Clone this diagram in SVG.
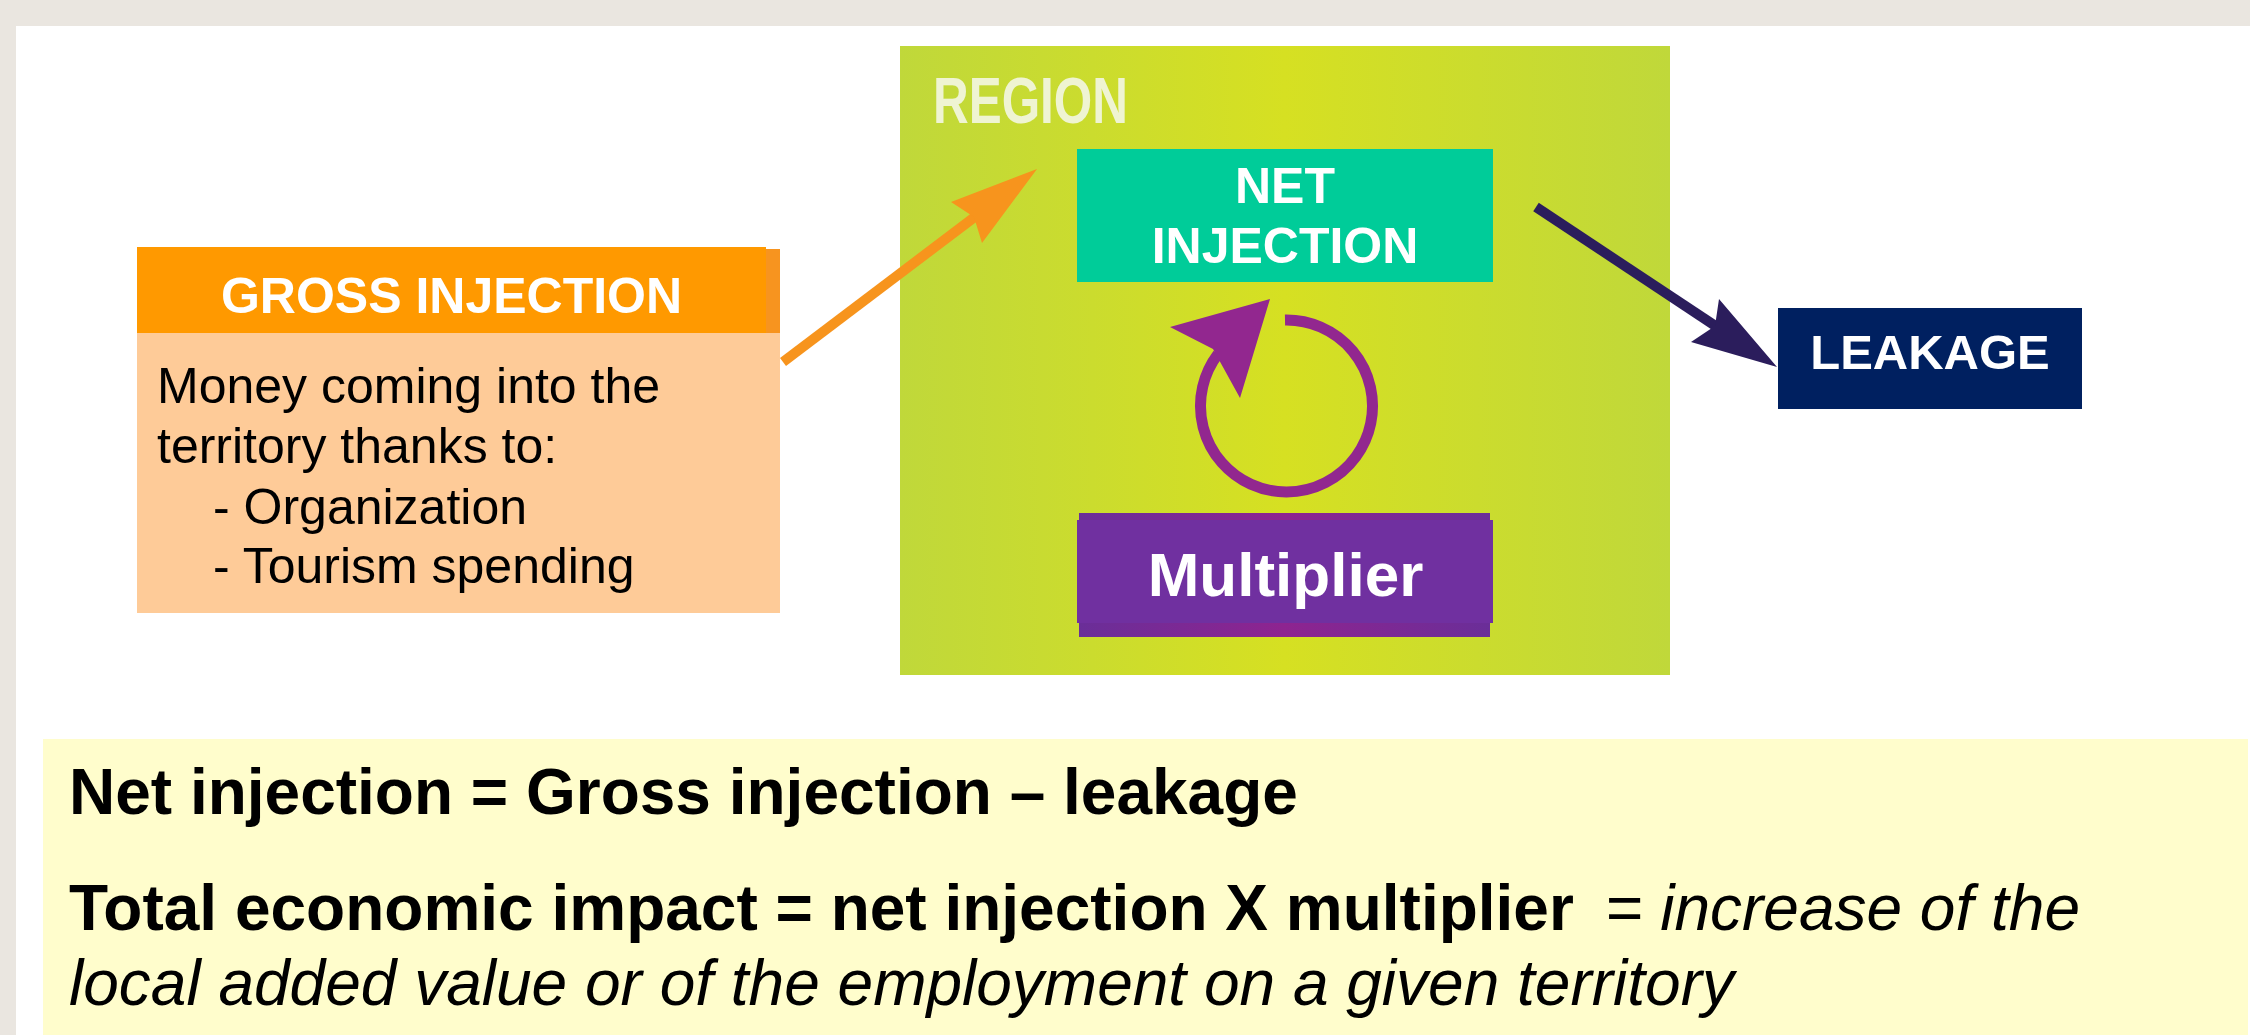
<svg xmlns="http://www.w3.org/2000/svg" width="2250" height="1035" viewBox="0 0 2250 1035">
  <style>
    .b { font-family: "Liberation Sans", Arial, sans-serif; font-weight: bold; }
    .r { font-family: "Liberation Sans", Arial, sans-serif; }
    .i { font-family: "Liberation Sans", Arial, sans-serif; font-style: italic; }
    .w { fill: #FFFFFF; }
    .k { fill: #000000; }
  </style>
  <defs>
    <linearGradient id="regionGrad" x1="0" y1="0" x2="1" y2="0">
      <stop offset="0" stop-color="#C0D83A"/>
      <stop offset="0.5" stop-color="#D6E022"/>
      <stop offset="1" stop-color="#C0D83A"/>
    </linearGradient>
    <linearGradient id="multShadow" x1="0" y1="0" x2="1" y2="0">
      <stop offset="0" stop-color="#6A2E98"/>
      <stop offset="0.5" stop-color="#8E2490"/>
      <stop offset="1" stop-color="#6A2E98"/>
    </linearGradient>
  </defs>

  <!-- page background -->
  <rect x="0" y="0" width="2250" height="1035" fill="#EAE6E0"/>
  <rect x="16" y="26" width="2234" height="1009" fill="#FFFFFF"/>

  <!-- region -->
  <g id="region">
    <rect x="900" y="46" width="770" height="629" fill="url(#regionGrad)"/>
    <text class="b" x="933" y="123" font-size="64" fill="#EFF4D2" textLength="195" lengthAdjust="spacingAndGlyphs">REGION</text>
  </g>

  <!-- gross injection -->
  <g id="gross-injection">
    <rect x="137" y="333" width="643" height="280" fill="#FECB98"/>
    <rect x="137" y="247" width="629" height="86" fill="#FF9900"/>
    <rect x="766" y="249" width="14" height="84" fill="#F7941F"/>
    <text class="b w" x="451.5" y="313" font-size="50" text-anchor="middle">GROSS INJECTION</text>
    <text class="r k" font-size="50">
      <tspan x="157" y="403">Money coming into the</tspan>
      <tspan x="157" y="463">territory thanks to:</tspan>
      <tspan x="213" y="524">- Organization</tspan>
      <tspan x="213" y="583">- Tourism spending</tspan>
    </text>
  </g>

  <!-- net injection -->
  <g id="net-injection">
    <rect x="1077" y="149" width="416" height="133" fill="#00CC99"/>
    <text class="b w" x="1285" y="203" font-size="50" text-anchor="middle">NET</text>
    <text class="b w" x="1285" y="263" font-size="50" text-anchor="middle">INJECTION</text>
  </g>

  <!-- multiplier -->
  <g id="multiplier">
    <rect x="1079" y="616" width="411" height="21" fill="url(#multShadow)"/>
    <rect x="1079" y="513" width="411" height="10" fill="url(#multShadow)"/>
    <rect x="1077" y="520" width="416" height="103" fill="#7030A0"/>
    <text class="b w" x="1285.5" y="596" font-size="62" text-anchor="middle">Multiplier</text>
  </g>

  <!-- leakage -->
  <g id="leakage">
    <rect x="1778" y="308" width="304" height="101" fill="#002060"/>
    <text class="b w" x="1930" y="369" font-size="49" text-anchor="middle">LEAKAGE</text>
  </g>

  <!-- connectors -->
  <g id="connectors">
    <line x1="783" y1="362" x2="976" y2="216" stroke="#F7941D" stroke-width="10"/>
    <polygon points="1037,169 951,202 974,217 982,243" fill="#F7941D"/>
    <line x1="1536" y1="207" x2="1717" y2="327" stroke="#2B1D5C" stroke-width="10"/>
    <polygon points="1777,367 1719,299 1715,326 1691,342" fill="#2B1D5C"/>
    <path d="M 1285 320 A 86 86 0 1 1 1218 354" fill="none" stroke="#92278F" stroke-width="11"/>
    <polygon points="1270,299 1170,327 1213,349 1240,398" fill="#92278F"/>
  </g>

  <!-- formula box -->
  <g id="formula">
    <rect x="43" y="739" width="2205" height="296" fill="#FFFDCC"/>
    <text class="b k" x="69" y="814" font-size="64">Net injection = Gross injection – leakage</text>
    <text class="b k" x="69" y="930" font-size="64">Total economic impact = net injection X multiplier</text>
    <text class="i k" x="1605" y="930" font-size="64">= increase of the</text>
    <text class="i k" x="69" y="1005" font-size="64">local added value or of the employment on a given territory</text>
  </g>
</svg>
